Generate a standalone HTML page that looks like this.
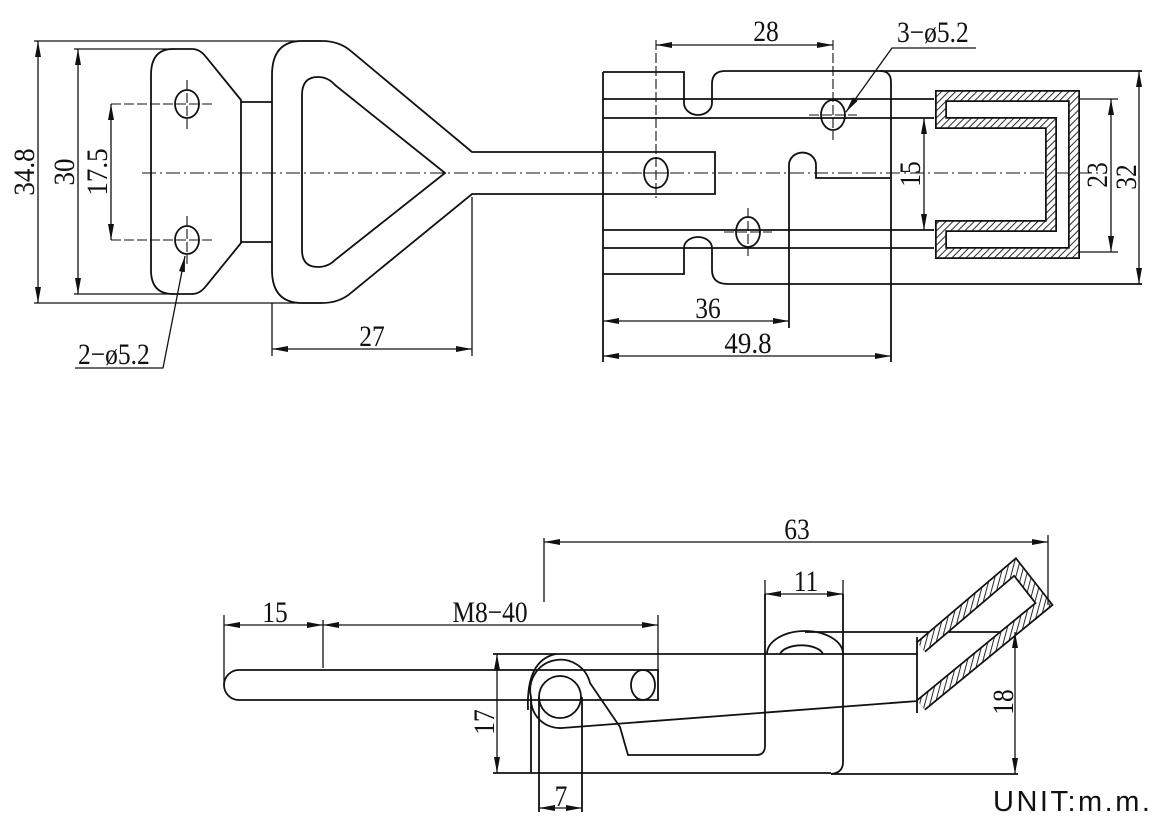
<!DOCTYPE html>
<html><head><meta charset="utf-8"><style>
html,body{margin:0;padding:0;background:#fff;}
svg{display:block;}
text{font-family:"Liberation Serif",serif;font-size:30px;fill:#111;}
</style></head><body>
<svg width="1164" height="823" viewBox="0 0 1164 823" xmlns="http://www.w3.org/2000/svg">
<defs>
<marker id="a" viewBox="0 0 16 6" refX="16" refY="3" markerWidth="16" markerHeight="6" markerUnits="userSpaceOnUse" orient="auto-start-reverse"><path d="M0,0 L16,3 L0,6 Z" fill="#111"/></marker>
<pattern id="h" width="5" height="5" patternUnits="userSpaceOnUse" patternTransform="rotate(45)"><rect width="5" height="5" fill="#fff"/><line x1="0" y1="0" x2="0" y2="5" stroke="#111" stroke-width="1.8"/></pattern>
<pattern id="h2" width="5" height="5" patternUnits="userSpaceOnUse" patternTransform="rotate(15)"><rect width="5" height="5" fill="#fff"/><line x1="0" y1="0" x2="0" y2="5" stroke="#111" stroke-width="1.8"/></pattern>
</defs>
<rect width="1164" height="823" fill="#fff"/>
<g fill="none" stroke="#111" stroke-width="1.8">
<line x1="142" y1="173" x2="1100" y2="173" stroke-width="1.1" stroke-dasharray="14,4,2,4"/>
<path d="M173,49 L192,49 Q200,49 206,57 L241,100 L241,243 L206,286 Q200,294 192,294 L173,294 Q151,294 151,270 L151,75 Q151,49 173,49 Z"/>
<line x1="241" y1="102" x2="272" y2="102"/><line x1="241" y1="242" x2="272" y2="242"/>
<ellipse cx="187" cy="104" rx="12" ry="14"/><ellipse cx="187" cy="240" rx="12" ry="14"/>
<g stroke-width="1.1" stroke-dasharray="10,3"><line x1="111" y1="104" x2="212" y2="104"/><line x1="111" y1="240" x2="212" y2="240"/><line x1="187" y1="80" x2="187" y2="130"/><line x1="187" y1="216" x2="187" y2="264"/></g>
<path d="M715,152 L472,152 L352,52 Q340,41 322,41 L302,41 Q272,41 272,75 L272,270 Q272,303 302,303 L322,303 Q340,303 352,292 L472,194 L715,194 Z"/>
<path d="M318,77 Q302,77 302,95 L302,250 Q302,267 318,267 Q328,267 335,260 L445,173 L335,85 Q328,77 318,77 Z"/>
<g stroke-width="1.3">
<line x1="34" y1="41" x2="322" y2="41"/><line x1="34" y1="303" x2="322" y2="303"/>
<line x1="74" y1="49" x2="175" y2="49"/><line x1="74" y1="294" x2="175" y2="294"/>
<line x1="38" y1="41" x2="38" y2="303" marker-start="url(#a)" marker-end="url(#a)"/>
<line x1="78" y1="49" x2="78" y2="294" marker-start="url(#a)" marker-end="url(#a)"/>
<line x1="111" y1="104" x2="111" y2="240" marker-start="url(#a)" marker-end="url(#a)"/>
<line x1="272" y1="303" x2="272" y2="356"/><line x1="472" y1="197" x2="472" y2="356"/>
<line x1="272" y1="349" x2="472" y2="349" marker-start="url(#a)" marker-end="url(#a)"/>
<polyline points="75,368 163,368 185,256" marker-end="url(#a)"/>
</g>
<line x1="603" y1="72" x2="603" y2="362"/>
<path d="M603,72 L684,72 L684,103 A14,12 0 0 0 712,103 L712,84 Q712,71 725,71 L1142,71"/>
<path d="M880,71 Q891,71 891,82 L891,362"/>
<line x1="603" y1="99" x2="934" y2="99"/><line x1="603" y1="118" x2="934" y2="118"/>
<line x1="603" y1="230" x2="934" y2="230"/><line x1="603" y1="248" x2="934" y2="248"/>
<path d="M789,328 L789,165 A13,12 0 0 1 816,165 L816,178 L891,178"/>
<path d="M603,274 L684,274 L684,248 A14,11 0 0 1 712,248 L712,270 Q712,284 728,284 L1142,284"/>
<ellipse cx="656" cy="173" rx="12" ry="15"/><ellipse cx="833" cy="115" rx="12" ry="15"/><ellipse cx="748" cy="232" rx="12" ry="15"/>
<g stroke-width="1.1" stroke-dasharray="10,3">
<line x1="656" y1="40" x2="656" y2="198"/><line x1="632" y1="173" x2="680" y2="173"/>
<line x1="833" y1="40" x2="833" y2="140"/><line x1="809" y1="115" x2="857" y2="115"/>
<line x1="748" y1="208" x2="748" y2="256"/><line x1="724" y1="232" x2="772" y2="232"/>
</g>
<g stroke-width="1.3">
<line x1="656" y1="45" x2="833" y2="45" marker-start="url(#a)" marker-end="url(#a)"/>
<polyline points="976,48 892,48 846,112" marker-end="url(#a)"/>
<line x1="924" y1="118" x2="924" y2="230" marker-start="url(#a)" marker-end="url(#a)"/>
<line x1="1080" y1="99" x2="1118" y2="99"/><line x1="1080" y1="252" x2="1118" y2="252"/>
<line x1="1111" y1="99" x2="1111" y2="252" marker-start="url(#a)" marker-end="url(#a)"/>
<line x1="1139" y1="71" x2="1139" y2="284" marker-start="url(#a)" marker-end="url(#a)"/>
<line x1="603" y1="321" x2="789" y2="321" marker-start="url(#a)" marker-end="url(#a)"/>
<line x1="603" y1="356" x2="891" y2="356" marker-start="url(#a)" marker-end="url(#a)"/>
</g>
<path d="M941,96 L1074,96 L1074,253 L941,253 L941,226 L1051,226 L1051,123 L941,123 Z" stroke-width="12" stroke-linejoin="miter"/>
<path d="M941,96 L1074,96 L1074,253 L941,253 L941,226 L1051,226 L1051,123 L941,123 Z" stroke="url(#h)" stroke-width="8.5" stroke-linejoin="miter"/>

<path d="M239,670 L658,670 L658,700 L239,700 A15,15 0 0 1 239,670 Z"/>
<ellipse cx="643" cy="685" rx="12" ry="15"/>
<line x1="493" y1="654" x2="918" y2="654"/>
<line x1="493" y1="773" x2="831" y2="773"/><line x1="831" y1="774" x2="1018" y2="774"/>
<path d="M531,773 L531,697 A29,29 0 0 1 590,683 L620,727 L628,755 L756,755 Q765,755 765,746 L765,594"/>
<path d="M531,697 A29,29 0 0 0 562,728 L918,701"/>
<path d="M528,710 Q526,660 556,654"/>
<circle cx="560" cy="697" r="21"/>
<line x1="539" y1="697" x2="539" y2="812"/><line x1="582" y1="697" x2="582" y2="812"/>
<path d="M843,594 L843,762 Q843,773 831,774"/>
<path d="M767,654 A38,23 0 0 1 843,654"/>
<path d="M780,654 A22,11 0 0 1 823,654"/>
<line x1="805" y1="632" x2="1015" y2="632"/>
<line x1="917" y1="637" x2="917" y2="713"/>
<polyline points="921,647 1015,567 1044,604 921,705" stroke-width="14" stroke-linejoin="miter"/>
<polyline points="921,647 1015,567 1044,604 921,705" stroke="url(#h2)" stroke-width="10.5" stroke-linejoin="miter"/>
<g stroke-width="1.3">
<line x1="544" y1="538" x2="544" y2="602"/><line x1="1048" y1="535" x2="1048" y2="605"/>
<line x1="544" y1="542" x2="1048" y2="542" marker-start="url(#a)" marker-end="url(#a)"/>
<line x1="765" y1="580" x2="765" y2="600"/><line x1="843" y1="580" x2="843" y2="600"/>
<line x1="765" y1="594" x2="843" y2="594" marker-start="url(#a)" marker-end="url(#a)"/>
<line x1="224" y1="615" x2="224" y2="685"/><line x1="323" y1="620" x2="323" y2="668"/><line x1="658" y1="615" x2="658" y2="670"/>
<line x1="224" y1="625" x2="323" y2="625" marker-start="url(#a)" marker-end="url(#a)"/>
<line x1="323" y1="625" x2="658" y2="625" marker-start="url(#a)" marker-end="url(#a)"/>
<line x1="497" y1="654" x2="497" y2="773" marker-start="url(#a)" marker-end="url(#a)"/>
<line x1="539" y1="808" x2="582" y2="808" marker-start="url(#a)" marker-end="url(#a)"/>
<line x1="1015" y1="632" x2="1015" y2="774" marker-start="url(#a)" marker-end="url(#a)"/>
</g>
</g>
<g>
<text transform="translate(34,172) rotate(-90) scale(0.9,1)" text-anchor="middle">34.8</text>
<text transform="translate(74,172) rotate(-90) scale(0.9,1)" text-anchor="middle">30</text>
<text transform="translate(107,172) rotate(-90) scale(0.9,1)" text-anchor="middle">17.5</text>
<text transform="translate(372,346) scale(0.85,1)" text-anchor="middle">27</text>
<text transform="translate(78,364) scale(0.85,1)">2−ø5.2</text>
<text transform="translate(766,41) scale(0.85,1)" text-anchor="middle">28</text>
<text transform="translate(897,42) scale(0.85,1)">3−ø5.2</text>
<text transform="translate(920,174) rotate(-90) scale(0.85,1)" text-anchor="middle">15</text>
<text transform="translate(1107,175) rotate(-90) scale(0.85,1)" text-anchor="middle">23</text>
<text transform="translate(1136,177) rotate(-90) scale(0.85,1)" text-anchor="middle">32</text>
<text transform="translate(708,318) scale(0.85,1)" text-anchor="middle">36</text>
<text transform="translate(748,353) scale(0.9,1)" text-anchor="middle">49.8</text>
<text transform="translate(797,539) scale(0.85,1)" text-anchor="middle">63</text>
<text transform="translate(806,591) scale(0.85,1)" text-anchor="middle">11</text>
<text transform="translate(275,622) scale(0.85,1)" text-anchor="middle">15</text>
<text transform="translate(490,622) scale(0.85,1)" text-anchor="middle">M8−40</text>
<text transform="translate(494,722) rotate(-90) scale(0.85,1)" text-anchor="middle">17</text>
<text transform="translate(561,806) scale(0.85,1)" text-anchor="middle">7</text>
<text transform="translate(1013,702) rotate(-90) scale(0.85,1)" text-anchor="middle">18</text>
<text x="993" y="811" style="font-family:'Liberation Sans',sans-serif;font-size:29px;letter-spacing:2.5px;">UNIT:m.m.</text>
</g>
</svg>
</body></html>
